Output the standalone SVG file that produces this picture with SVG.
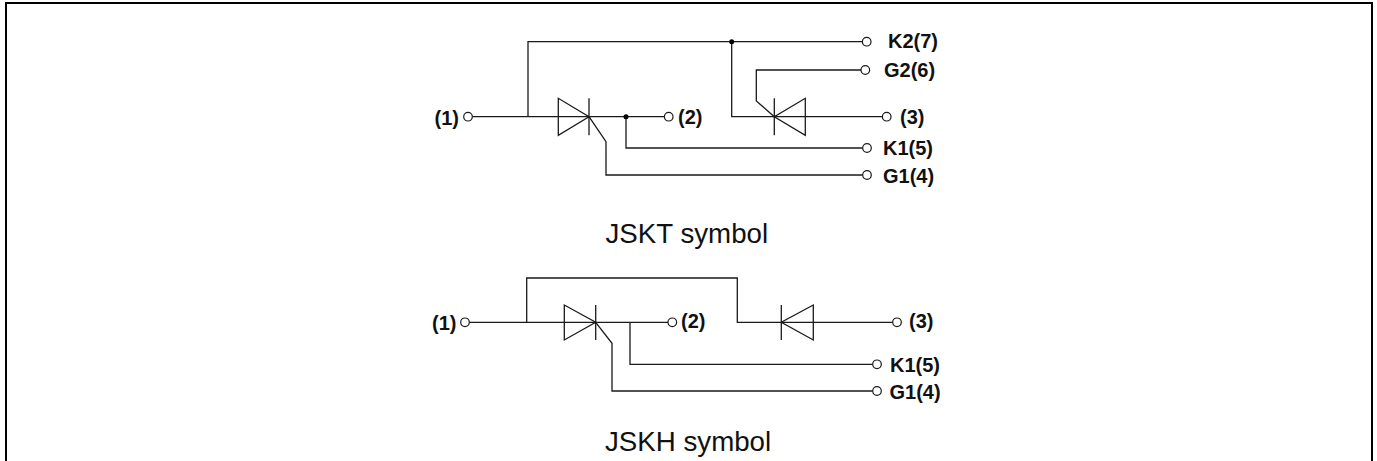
<svg xmlns="http://www.w3.org/2000/svg" width="1377" height="461" viewBox="0 0 1377 461">
<style>
.w{fill:none;stroke:#1a1a1a;stroke-width:1.3}
.t{fill:#fff;stroke:#1a1a1a;stroke-width:1.2}
.d{fill:#000}
.l{font-family:"Liberation Sans",Arial,sans-serif;font-weight:bold;font-size:20px;fill:#111}
.c{font-family:"Liberation Sans",Arial,sans-serif;font-size:27.7px;fill:#111}
</style>
<rect width="1377" height="461" fill="#fff"/>
<path id="border" d="M6 461V3H1372V461" fill="none" stroke="#000" stroke-width="2"/>
<g id="connectors" class="w">
<path d="M472.3 116.7H664.4M528 116.7V41.7H862.4M731.7 41.7V116.7H882.4M626 116.7V148H862.7M589 116.7L606 141.7V175H862.7"/>
<path d="M861 70H756.3V101L774.3 116.7"/>
<path d="M469.3 322.3H668M526.7 322.3V278H737.3V322.3H892.7M630 322.3V364.3H872.7M595.7 322.3L612 343.3V391H872.7"/>
</g>
<g id="thyristor-t1"><path class="w" d="M558.3 98.3V135.3L589 116.7ZM589 98.3V135.3"/></g>
<g id="thyristor-t2"><path class="w" d="M805.3 98.3V135.3L774.3 116.7ZM774.3 98.3V135.3"/></g>
<g id="thyristor-h1"><path class="w" d="M564.3 305V340L595.7 322.3ZM595.7 305V340"/></g>
<g id="diode-h2"><path class="w" d="M813.3 305V340L781.3 322.3ZM781.3 305V340"/></g>
<g id="dots"><circle class="d" cx="626" cy="116.7" r="2.5"/><circle class="d" cx="731.7" cy="41.7" r="2.5"/></g>
<g id="t-1"><circle class="t" cx="468" cy="116.7" r="4.3"/><text class="l" x="434.5" y="124.5">(1)</text></g>
<g id="t-2"><circle class="t" cx="668.7" cy="116.7" r="4.3"/><text class="l" x="678" y="123.5">(2)</text></g>
<g id="t-3"><circle class="t" cx="886.7" cy="116.7" r="4.3"/><text class="l" x="900" y="123.5">(3)</text></g>
<g id="t-k2"><circle class="t" cx="866.7" cy="41.7" r="4.3"/><text class="l" x="888" y="48">K2(7)</text></g>
<g id="t-g2"><circle class="t" cx="865.3" cy="70" r="4.3"/><text class="l" x="884" y="77">G2(6)</text></g>
<g id="t-k1"><circle class="t" cx="867" cy="148" r="4.3"/><text class="l" x="883" y="154.5">K1(5)</text></g>
<g id="t-g1"><circle class="t" cx="867" cy="175" r="4.3"/><text class="l" x="883" y="182.5">G1(4)</text></g>
<g id="h-1"><circle class="t" cx="465" cy="322.3" r="4.3"/><text class="l" x="432" y="330">(1)</text></g>
<g id="h-2"><circle class="t" cx="672.3" cy="322.3" r="4.3"/><text class="l" x="681" y="328">(2)</text></g>
<g id="h-3"><circle class="t" cx="897" cy="322.3" r="4.3"/><text class="l" x="909" y="327.5">(3)</text></g>
<g id="h-k1"><circle class="t" cx="877" cy="364.3" r="4.3"/><text class="l" x="890" y="371.5">K1(5)</text></g>
<g id="h-g1"><circle class="t" cx="877" cy="391" r="4.3"/><text class="l" x="889.5" y="399">G1(4)</text></g>
<text class="c" x="605.5" y="243">JSKT symbol</text>
<text class="c" x="605" y="450.5">JSKH symbol</text>
</svg>
